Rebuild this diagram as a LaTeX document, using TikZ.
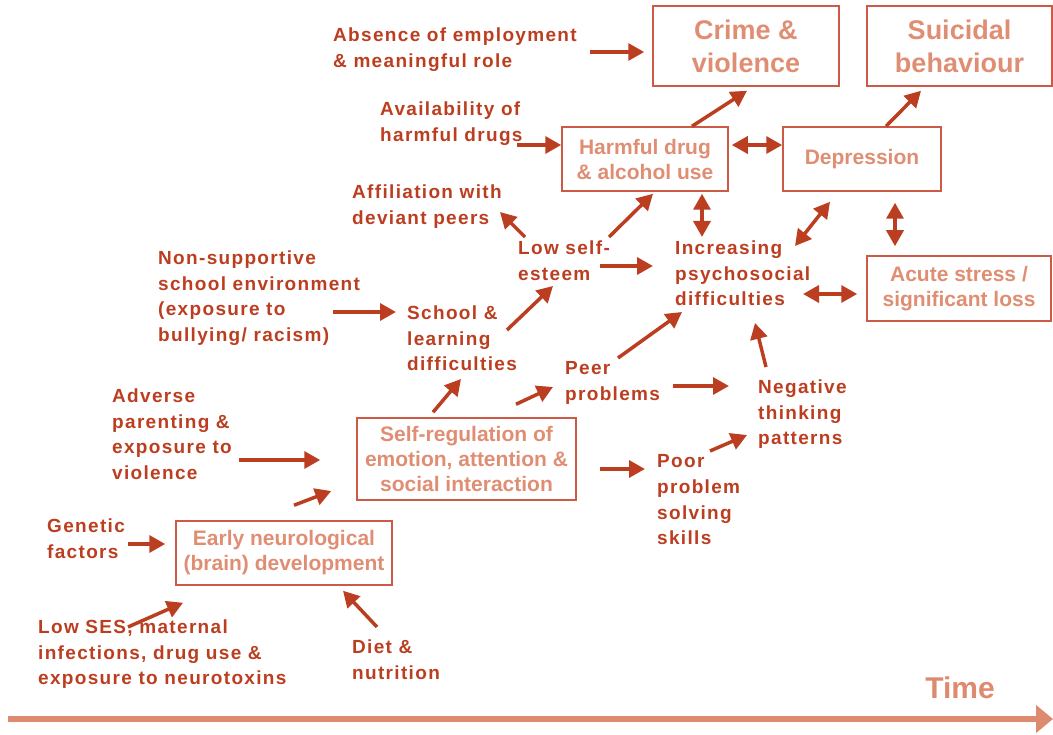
\documentclass[tikz,border=0pt]{standalone}
\usepackage{fontspec}
\setmainfont{Liberation Sans}
\newfontfamily\spacedfont{Liberation Sans}[LetterSpace=7]
\usepackage{tikz}
\usetikzlibrary{arrows.meta}

\definecolor{rust}{RGB}{188,62,32}
\definecolor{salmon}{RGB}{224,142,115}
\definecolor{boxline}{RGB}{205,90,70}
\definecolor{timecol}{RGB}{222,138,110}

\begin{document}
\begin{tikzpicture}[
  x=1pt,
  y=-1pt,
]

  \tikzstyle{factor}=[anchor=north west,align=left,inner sep=0pt,text=rust,font=\spacedfont\bfseries\fontsize{19}{25.7}\selectfont]
  \tikzstyle{outcome}=[draw=boxline,line width=1.5pt,rectangle,align=center,inner sep=0pt,text=salmon,font=\bfseries\fontsize{21}{25}\selectfont]
  \tikzstyle{bigoutcome}=[outcome,font=\bfseries\fontsize{27}{33}\selectfont]
  \tikzstyle{pointer}=[draw=rust,line width=3.5pt,-{Triangle[length=16pt,width=17pt]}]
  \tikzstyle{bothptr}=[pointer,{Triangle[length=16pt,width=17pt]}-{Triangle[length=16pt,width=17pt]}]
  \tikzstyle{timeline}=[draw=timecol,line width=5.5pt,-{Triangle[length=17pt,width=27pt]}]

  \useasboundingbox (0,0) rectangle (1053,735);

  % boxes
  \node[bigoutcome,minimum width=186,minimum height=80] (crime) at (746,46) {Crime \&\\violence};
  \node[bigoutcome,minimum width=185,minimum height=80] (suicide) at (959.5,46) {Suicidal\\behaviour};
  \node[outcome,minimum width=166,minimum height=64] (harm) at (645,159) {Harmful drug\\\& alcohol use};
  \node[outcome,minimum width=158,minimum height=64] (depr) at (862,159) {Depression};
  \node[outcome,minimum width=184,minimum height=65] (acute) at (959,288.5) {Acute stress /\\significant loss};
  \node[outcome,minimum width=219,minimum height=82] (selfreg) at (466.5,459) {Self-regulation of\\emotion, attention \&\\social interaction};
  \node[outcome,minimum width=216,minimum height=64] (early) at (284,553) {Early neurological\\(brain) development};

  % factors
  \node[factor] (absence) at (333,27.5) {Absence of employment\\\& meaningful role};
  \node[factor] (avail) at (380,101.5) {Availability of\\harmful drugs};
  \node[factor] (affil) at (352,184.5) {Affiliation with\\deviant peers};
  \node[factor] (lowself) at (518,240.5) {Low self-\\esteem};
  \node[factor] (incr) at (675,240.5) {Increasing\\psychosocial\\difficulties};
  \node[factor] (nonsup) at (158,250.5) {Non-supportive\\school environment\\(exposure to\\bullying/ racism)};
  \node[factor] (school) at (407,305.5) {School \&\\learning\\difficulties};
  \node[factor] (peer) at (565,361.5) {Peer\\problems};
  \node[factor] (negative) at (758,379.5) {Negative\\thinking\\patterns};
  \node[factor] (adverse) at (112,388.5) {Adverse\\parenting \&\\exposure to\\violence};
  \node[factor] (poor) at (657,454.5) {Poor\\problem\\solving\\skills};
  \node[factor] (genetic) at (47,518.5) {Genetic\\factors};
  \node[factor] (lowses) at (38,619.5) {Low SES, maternal\\infections, drug use \&\\exposure to neurotoxins};
  \node[factor] (diet) at (352,639.5) {Diet \&\\nutrition};

  \node[font=\bfseries\fontsize{30}{36}\selectfont,text=timecol] (time) at (960,688) {Time};
  \coordinate (tstart) at (8,719);
  \coordinate (tend) at (1053,719);

  % pointers
  \draw[pointer] ([shift={(257,24.5)}]absence.north west) -- ([shift={(-8,6)}]crime.west);
  \draw[pointer] ([shift={(137,43.5)}]avail.north west)   -- ([shift={(0,-14)}]harm.west);
  \draw[pointer] ([shift={(47,0)}]harm.north)             -- ([shift={(1,4)}]crime.south);
  \draw[bothptr] ([shift={(3,-14)}]harm.east)             -- ([shift={(0,-14)}]depr.west);
  \draw[pointer] ([shift={(24,0)}]depr.north)             -- ([shift={(-38.5,4)}]suicide.south);
  \draw[bothptr] ([shift={(57,2)}]harm.south)             -- ([shift={(27,-3.5)}]incr.north west);
  \draw[bothptr] ([shift={(-32,10)}]depr.south)           -- ([shift={(120,5.5)}]incr.north west);
  \draw[bothptr] ([shift={(33,11)}]depr.south)            -- ([shift={(-64,-9)}]acute.north);
  \draw[bothptr] ([shift={(128,53.5)}]incr.north west)    -- ([shift={(-9,5.5)}]acute.west);

  \draw[pointer] ([shift={(91,-3.5)}]lowself.north west)  -- ([shift={(8,2)}]harm.south);
  \draw[pointer] ([shift={(7,-3.5)}]lowself.north west)   -- ([shift={(148,27.5)}]affil.north west);
  \draw[pointer] ([shift={(82,25.5)}]lowself.north west)  -- ([shift={(-22,25.5)}]incr.north west);
  \draw[pointer] ([shift={(175,61.5)}]nonsup.north west)  -- ([shift={(-11,6.5)}]school.north west);
  \draw[pointer] ([shift={(100,24.5)}]school.north west)  -- ([shift={(35,45.5)}]lowself.north west);

  \draw[pointer] ([shift={(-33.5,-5)}]selfreg.north)      -- ([shift={(54,73.5)}]school.north west);
  \draw[pointer] ([shift={(49.5,-13)}]selfreg.north)      -- ([shift={(-12,25.5)}]peer.north west);
  \draw[pointer] ([shift={(53,-3.5)}]peer.north west)     -- ([shift={(7,71.5)}]incr.north west);
  \draw[pointer] ([shift={(108,24.5)}]peer.north west)    -- ([shift={(-29,6.5)}]negative.north west);
  \draw[pointer] ([shift={(8,-12.5)}]negative.north west) -- ([shift={(80,82.5)}]incr.north west);
  \draw[pointer] ([shift={(23,10)}]selfreg.east)          -- ([shift={(-12,14.5)}]poor.north west);
  \draw[pointer] ([shift={(53,-3.5)}]poor.north west)     -- ([shift={(-11,55.5)}]negative.north west);

  \draw[pointer] ([shift={(127,71.5)}]adverse.north west) -- ([shift={(-36,1)}]selfreg.west);
  \draw[pointer] ([shift={(10,-15)}]early.north)          -- ([shift={(-25,32)}]selfreg.west);
  \draw[pointer] ([shift={(81,25.5)}]genetic.north west)  -- ([shift={(-10,-9)}]early.west);
  \draw[pointer] ([shift={(90,7.5)}]lowses.north west)    -- ([shift={(-101,17)}]early.south);
  \draw[pointer] ([shift={(25,-12.5)}]diet.north west)    -- ([shift={(59,5)}]early.south);

  \draw[timeline] (tstart) -- (tend);

\end{tikzpicture}
\end{document}
